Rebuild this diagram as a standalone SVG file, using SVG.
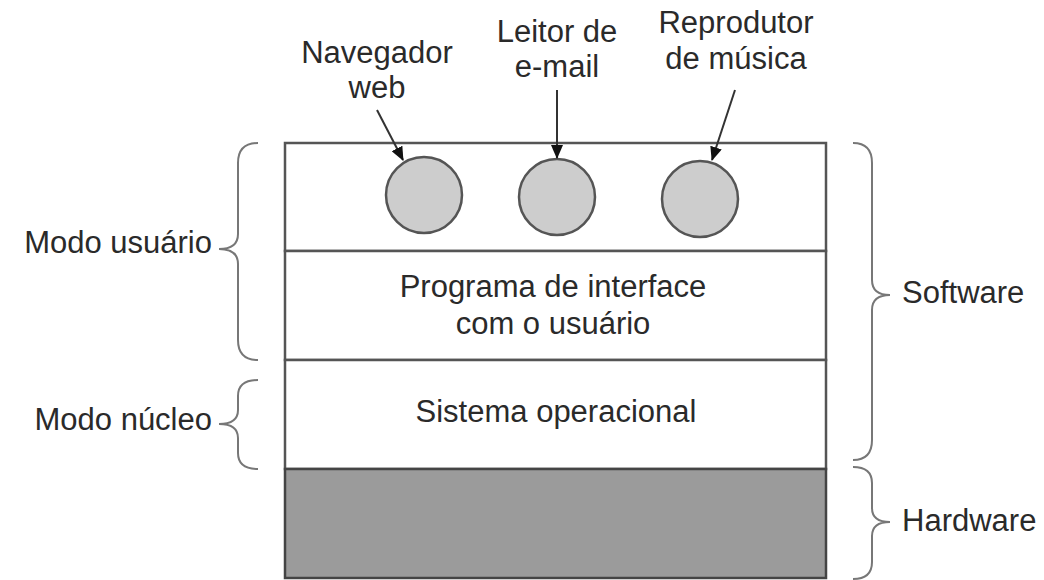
<svg xmlns="http://www.w3.org/2000/svg" width="1044" height="580" viewBox="0 0 1044 580">
  <style>
    .t { font-family: "Liberation Sans", Arial, sans-serif; font-size: 31px; fill: #2a2a2a; }
    .c { text-anchor: middle; }
    .e { text-anchor: end; }
    .layer { fill: #ffffff; stroke: #555555; stroke-width: 2.5; }
    .hw { fill: #9b9b9b; stroke: #444444; stroke-width: 2.5; }
    .app { fill: #cdcdcd; stroke: #555555; stroke-width: 2.5; }
    .brace { fill: none; stroke: #777777; stroke-width: 2; }
    .arrow { stroke: #333333; stroke-width: 2; fill: none; marker-end: url(#ah); }
  </style>
  <defs>
    <marker id="ah" markerWidth="14" markerHeight="12" refX="13" refY="6" orient="auto" markerUnits="userSpaceOnUse">
      <path d="M0,0 L14,6 L0,12 z" fill="#111111"/>
    </marker>
  </defs>
  <rect width="1044" height="580" fill="#ffffff"/>

  <g id="layer-user">
    <rect class="layer" x="285" y="143" width="541" height="108"/>
  </g>
  <g id="layer-ui">
    <rect class="layer" x="285" y="251" width="541" height="109"/>
    <text class="t c" x="553" y="297">Programa de interface</text>
    <text class="t c" x="553" y="334">com o usuário</text>
  </g>
  <g id="layer-os">
    <rect class="layer" x="285" y="360" width="541" height="109"/>
    <text class="t c" x="556" y="422">Sistema operacional</text>
  </g>
  <g id="layer-hw">
    <rect class="hw" x="285" y="469" width="541" height="109"/>
  </g>

  <g id="app-browser">
    <circle class="app" cx="424" cy="195" r="38"/>
    <text class="t c" x="377" y="63">Navegador</text>
    <text class="t c" x="377" y="98">web</text>
  </g>
  <g id="app-email">
    <circle class="app" cx="557" cy="197" r="38"/>
    <text class="t c" x="557" y="42">Leitor de</text>
    <text class="t c" x="557" y="77">e-mail</text>
  </g>
  <g id="app-music">
    <circle class="app" cx="700" cy="199" r="38"/>
    <text class="t c" x="736" y="33">Reprodutor</text>
    <text class="t c" x="736" y="69">de música</text>
  </g>

  <g id="connectors">
    <line class="arrow" x1="377" y1="110" x2="403" y2="160"/>
    <line class="arrow" x1="557" y1="90" x2="557" y2="158"/>
    <line class="arrow" x1="735" y1="90" x2="712" y2="160"/>
  </g>

  <g id="brace-user">
    <path class="brace" d="M258,143 Q238,143 238,163 L238,234 Q238,249 219,249 Q238,249 238,264 L238,340 Q238,360 258,360"/>
    <text class="t e" x="212" y="253">Modo usuário</text>
  </g>
  <g id="brace-kernel">
    <path class="brace" d="M258,380 Q238,380 238,396 L238,410 Q238,424 219,424 Q238,424 238,438 L238,453 Q238,469 258,469"/>
    <text class="t e" x="212" y="430">Modo núcleo</text>
  </g>
  <g id="brace-software">
    <path class="brace" d="M853,143 Q872,143 872,163 L872,280 Q872,295 890,295 Q872,295 872,310 L872,440 Q872,460 853,460"/>
    <text class="t" x="902" y="303">Software</text>
  </g>
  <g id="brace-hardware">
    <path class="brace" d="M853,467 Q872,467 872,483 L872,508 Q872,522 890,522 Q872,522 872,536 L872,562 Q872,579 853,579"/>
    <text class="t" x="902" y="531">Hardware</text>
  </g>
</svg>
